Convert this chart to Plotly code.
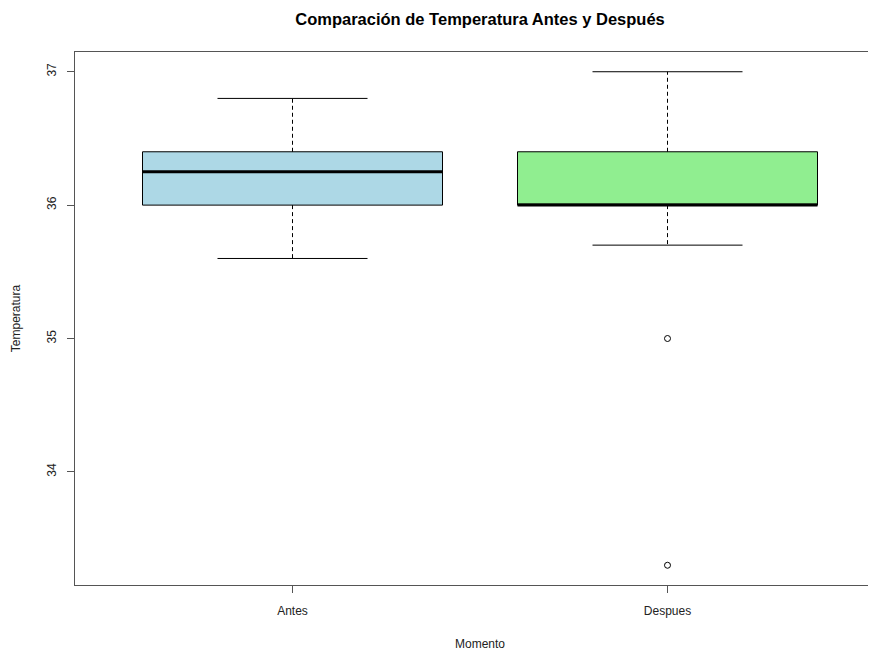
import plotly.graph_objects as go

categories = ["Antes", "Despues"]
q1 = [36.0, 36.0]
medians = [36.25, 36.0]
q3 = [36.4, 36.4]
lower_whisker = [35.6, 35.7]
upper_whisker = [36.8, 37.0]
outlier_cat = ["Despues", "Despues"]
outlier_vals = [35.0, 33.3]
fill_colors = ["lightblue", "lightgreen"]

positions = [1, 2]
pos_of = dict(zip(categories, positions))
box_w = 0.8
cap_w = 0.4

fig = go.Figure()

for i, cat in enumerate(categories):
    p = positions[i]
    fig.add_trace(go.Scatter(
        x=[p, p, None, p, p],
        y=[q3[i], upper_whisker[i], None, q1[i], lower_whisker[i]],
        mode="lines", line=dict(color="black", width=1, dash="4px,3px"),
        hoverinfo="skip", showlegend=False))
    fig.add_trace(go.Scatter(
        x=[p - cap_w / 2, p + cap_w / 2, None, p - cap_w / 2, p + cap_w / 2],
        y=[upper_whisker[i], upper_whisker[i], None, lower_whisker[i], lower_whisker[i]],
        mode="lines", line=dict(color="black", width=1),
        hoverinfo="skip", showlegend=False))
    fig.add_trace(go.Box(
        x=[p], q1=[q1[i]], median=[medians[i]], q3=[q3[i]],
        lowerfence=[q1[i]], upperfence=[q3[i]],
        width=box_w, whiskerwidth=0,
        fillcolor=fill_colors[i], line=dict(color="black", width=1),
        boxpoints=False, hoverinfo="skip", showlegend=False))
    fig.add_trace(go.Scatter(
        x=[p - box_w / 2, p + box_w / 2], y=[medians[i], medians[i]],
        mode="lines", line=dict(color="black", width=3),
        hoverinfo="skip", showlegend=False))

fig.add_trace(go.Scatter(
    x=[pos_of[c] for c in outlier_cat], y=outlier_vals, mode="markers",
    marker=dict(symbol="circle-open", size=6, color="black", line=dict(width=1)),
    hoverinfo="skip", showlegend=False))

font = "Liberation Sans, Arial, sans-serif"
W, H = 860, 643  # page body adds an 8px offset
T, B = 44, 66
plot_h = H - T - B
fig.update_layout(
    width=W, height=H,
    margin=dict(l=67, r=0, t=T, b=B),
    paper_bgcolor="white", plot_bgcolor="white",
    font=dict(family=font, size=12, color="#222"),
    title=dict(text="<b>Comparación de Temperatura Antes y Después</b>",
               x=472 / W, xref="container", xanchor="center",
               y=1 - 11 / H, yref="container", yanchor="middle",
               font=dict(family=font, size=16.5, color="black")),
    xaxis=dict(range=[0.42, 0.42 + (W - 67) / 375], tickmode="array",
               tickvals=positions, ticktext=categories, automargin=False,
               ticklabelstandoff=8,
               showgrid=False, zeroline=False, showline=True, mirror=True,
               linecolor="#555", linewidth=1, ticks="outside", ticklen=7,
               tickcolor="#555", tickfont=dict(size=12, color="#222")),
    yaxis=dict(range=[33.152, 37.148], tickvals=[34, 35, 36, 37],
               automargin=False, ticklabelstandoff=6,
               showgrid=False, zeroline=False, showline=True, mirror=False,
               linecolor="#555", linewidth=1, ticks="outside", ticklen=7,
               tickcolor="#555", tickangle=-90,
               tickfont=dict(size=12, color="#222"),
               title=dict(text="Temperatura", standoff=22,
                          font=dict(size=12, color="#222"))),
    annotations=[dict(text="Momento", xref="paper", yref="paper",
                      x=(480 - 75) / (W - 67), y=-59 / plot_h,
                      xanchor="center", yanchor="middle", showarrow=False,
                      font=dict(size=12, color="#222"))],
)

fig.write_html("out.html")
